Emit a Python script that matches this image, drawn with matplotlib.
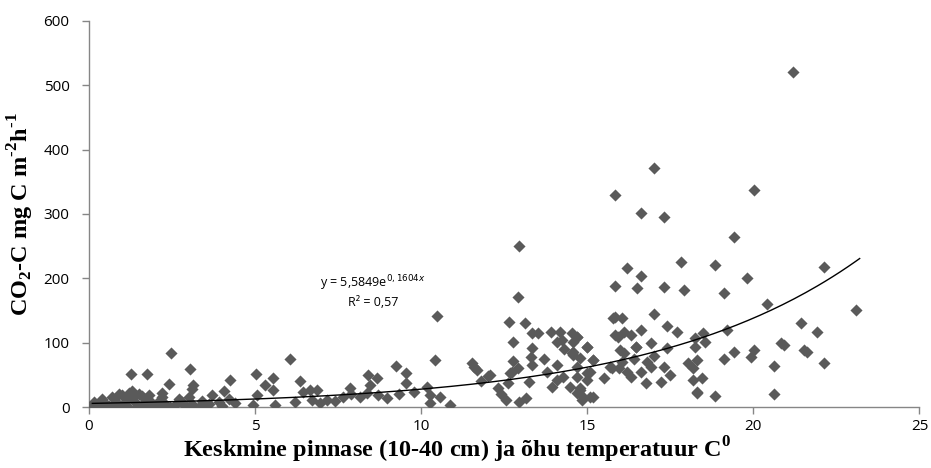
import numpy as np
import matplotlib
matplotlib.use('Agg')
import matplotlib.pyplot as plt

# Andmed (loetud jooniselt)
temp_low = [0.05, 0.1, 0.15, 0.2, 0.3, 0.4, 0.5, 0.6, 0.7, 0.8, 0.9, 0.9, 1.0, 1.1, 1.15,
            1.2, 1.3, 1.3, 1.4, 1.5, 1.6, 1.6, 1.7, 1.8, 1.9, 2.0, 2.1, 2.2, 2.2, 2.3,
            2.6, 2.7, 2.8, 2.9, 3.0, 3.1, 3.4, 3.6, 3.7, 3.9, 4.0, 4.2, 4.4, 0.25, 0.55,
            0.85, 1.05, 1.45, 1.75, 2.05, 2.45, 2.95, 3.3, 3.5]
co2_low = [0, 2, 8, 3, 4, 12, 5, 1, 15, 8, 3, 20, 18, 10, 2,
           22, 14, 25, 6, 20, 3, 17, 12, 18, 7, 2, 10, 15, 22, 5,
           3, 12, 8, 2, 15, 5, 10, 4, 18, 8, 2, 12, 6, 0, 0,
           0, 0, 0, 0, 0, 0, 0, 0, 0]

temp_mid = [2.47, 1.26, 1.74, 3.04, 2.41, 3.13, 3.1, 4.24, 4.06, 5.02, 5.53, 5.29, 5.53,
            4.93, 5.6, 5.05, 6.05, 6.35, 6.44, 6.65, 6.86, 6.7, 6.95, 7.16, 7.64, 7.85,
            8.15, 8.39, 8.66, 8.45, 8.36, 8.96, 9.23, 9.53, 9.53, 9.32, 9.77, 10.17, 10.26,
            10.26, 10.56, 10.86, 10.41, 10.47, 7.4, 7.9, 8.7, 6.2]
co2_mid = [84, 51, 51, 59, 36, 34, 28, 42, 25, 51, 45, 34, 26,
           3, 3, 19, 75, 40, 23, 26, 26, 11, 6, 11, 16, 30,
           16, 50, 45, 34, 22, 14, 64, 53, 37, 20, 23, 31, 19,
           6, 16, 3, 73, 142, 10, 20, 18, 8]

temp_high = [12.9, 12.93, 12.63, 13.14, 13.35, 13.53, 13.92, 14.17, 14.53, 14.08, 14.23,
             12.75, 13.35, 14.56, 14.56, 13.71, 13.35, 12.75, 12.9, 12.66, 12.06, 11.52,
             11.67, 12.6, 12.3, 13.26, 12.54, 12.93, 13.17, 14.08, 14.26, 13.95, 14.47,
             14.68, 14.7, 15.0, 14.1, 14.53, 15.16, 14.68, 14.98, 14.77, 15.07, 14.83,
             15.73, 16.06, 16.33, 15.76, 15.82, 16.48, 11.6, 12.0, 12.72, 13.32, 14.3,
             13.8, 11.8, 12.4]
co2_high = [171, 250, 132, 131, 115, 115, 117, 117, 115, 101, 104,
            101, 92, 101, 81, 75, 65, 72, 61, 53, 50, 68,
            58, 37, 30, 39, 11, 8, 14, 42, 47, 31, 31,
            22, 109, 93, 65, 84, 73, 62, 53, 26, 16, 11,
            61, 70, 47, 138, 112, 93, 62, 48, 54, 78, 90,
            55, 40, 20]

temp_top = [17.02, 15.82, 16.63, 17.32, 17.83, 16.21, 16.63, 15.82, 16.51, 17.32, 17.92,
            15.82, 16.06, 17.02, 16.63, 17.41, 17.71, 16.12, 16.33, 15.91, 14.68, 16.93,
            17.41, 15.0, 16.12, 16.48, 14.56, 14.77, 15.16, 15.67, 15.97, 16.21, 16.63,
            16.93, 17.32, 15.07, 14.68, 14.98, 16.78, 17.23, 14.77, 14.86, 15.16, 18.02,
            18.23, 18.17, 18.29, 20.03, 19.43, 18.83, 22.14, 19.82, 19.13, 20.42, 21.44,
            21.92, 19.22, 18.47, 18.23, 18.53, 20.84, 20.93, 20.03, 19.94, 19.43, 19.13,
            21.53, 21.62, 18.29, 18.17, 18.44, 20.63, 22.14, 18.29, 18.83, 20.63, 21.2,
            23.1, 17.0, 16.8, 17.5, 15.5, 16.0, 16.4]
co2_top = [372, 330, 302, 295, 226, 216, 204, 188, 185, 187, 182,
           140, 138, 145, 120, 126, 117, 117, 112, 109, 109, 100,
           92, 93, 84, 93, 86, 76, 73, 62, 61, 54, 54,
           62, 62, 54, 47, 42, 37, 39, 30, 16, 16, 68,
           93, 42, 22, 337, 264, 221, 218, 201, 177, 160, 131,
           117, 120, 115, 107, 101, 100, 96, 89, 78, 86, 75,
           89, 86, 73, 61, 45, 64, 68, 23, 17, 20, 521,
           151, 80, 70, 50, 45, 88, 75]

temp = np.array(temp_low + temp_mid + temp_high + temp_top)
co2 = np.array(co2_low + co2_mid + co2_high + co2_top)

# Eksponentsiaalne trend (joonise võrrandist)
a, b = 5.5849, 0.1604
x_fit = np.linspace(0.1, 23.2, 200)
y_fit = a * np.exp(b * x_fit)

plt.rcParams['mathtext.fontset'] = 'custom'
plt.rcParams['mathtext.rm'] = 'Liberation Serif:bold'
plt.rcParams['mathtext.bf'] = 'Liberation Serif:bold'

fig = plt.figure(figsize=(9.31, 4.68), dpi=100)
ax = fig.add_axes([0.0956, 0.1303, 0.892, 0.825])

ax.scatter(temp, co2, marker='D', s=38, color='#5a5a5a', linewidths=0, zorder=3)
ax.plot(x_fit, y_fit, color='black', linewidth=1.0, zorder=4)

ax.set_xlim(0, 25)
ax.set_ylim(0, 600)
ax.set_xticks(range(0, 26, 5))
ax.set_yticks(range(0, 601, 100))

for s in ['top', 'right']:
    ax.spines[s].set_visible(False)
for s in ['left', 'bottom']:
    ax.spines[s].set_color('#868686')
    ax.spines[s].set_linewidth(1.0)
ax.tick_params(colors='#868686', labelcolor='black', length=5, width=1.0)
ax.tick_params(axis='y', pad=9)
for lab in ax.get_xticklabels() + ax.get_yticklabels():
    lab.set_family('Open Sans')
    lab.set_fontsize(11)

ax.set_xlabel('Keskmine pinnase (10-40 cm) ja õhu temperatuur C$^{0}$',
              family='Liberation Serif', fontweight='bold', fontsize=17.5)
ax.xaxis.set_label_coords(0.443, -0.072)
ax.set_ylabel(r'CO$_{2}$-C mg C m$^{\text{-2}}$h$^{\text{-1}}$',
              family='Liberation Serif', fontweight='bold', fontsize=17.5)
ax.yaxis.set_label_coords(-0.064, 0.5)

ax.text(8.55, 193, 'y = 5,5849e$^{0,1604x}$', ha='center', va='center',
        family='Open Sans', fontsize=9, math_fontfamily='dejavusans')
ax.text(8.55, 163, 'R² = 0,57', ha='center', va='center',
        family='Open Sans', fontsize=9)

plt.savefig('out.png', dpi=100, facecolor='white')
plt.close()
